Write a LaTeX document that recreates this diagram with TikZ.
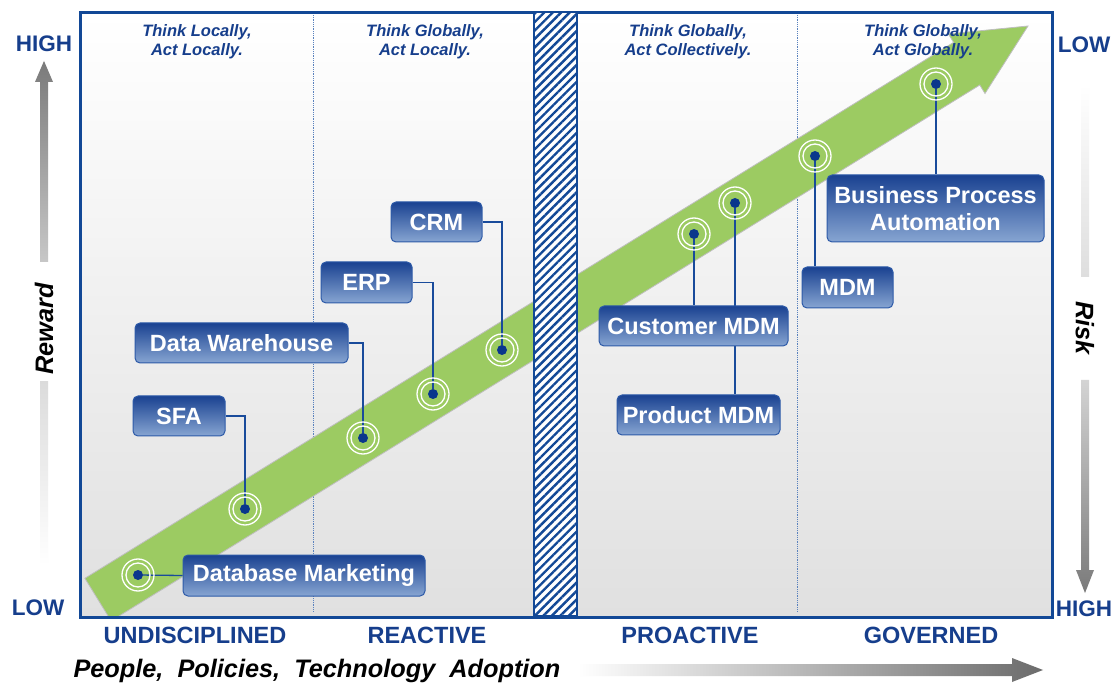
\documentclass[tikz,border=0pt]{standalone}
\usepackage{fontspec}
\setmainfont{Liberation Sans}
\usetikzlibrary{patterns.meta}

\definecolor{frameblue}{RGB}{18,72,150}
\definecolor{textblue}{RGB}{22,62,140}
\definecolor{boxtop}{RGB}{26,66,145}
\definecolor{boxbot}{RGB}{135,165,210}
\definecolor{boxedge}{RGB}{45,90,168}
\definecolor{dotblue}{RGB}{10,55,140}
\definecolor{leaf}{RGB}{156,203,98}
\definecolor{linkblue}{RGB}{25,75,155}
\definecolor{panelbot}{RGB}{224,224,224}
\definecolor{divblue}{RGB}{90,130,190}

\pgfdeclarelayer{back}
\pgfdeclarelayer{links}
\pgfsetlayers{back,links,main}

\tikzset{
  lbl/.style={rounded corners=5pt, draw=boxedge, line width=1pt,
    top color=boxtop, bottom color=boxbot, text=white,
    font=\fontsize{23.5}{27.5}\selectfont\bfseries, inner sep=0pt,
    minimum height=40pt, align=center},
  marker/.style={circle, fill=dotblue, inner sep=0pt, minimum size=10pt},
  ring/.style={draw=white, line width=1.3pt},
  link/.style={draw=linkblue, line width=1.3pt},
  colhead/.style={text=textblue, font=\fontsize{16.5}{18}\selectfont\bfseries\itshape, anchor=base},
  stage/.style={text=textblue, font=\fontsize{23.5}{25}\selectfont\bfseries},
  level/.style={text=textblue, font=\fontsize{22.5}{24}\selectfont\bfseries},
  axis/.style={text=black, font=\fontsize{25.3}{27}\selectfont\bfseries\itshape},
  divider/.style={draw=divblue, line width=0.8pt, densely dotted}
}

\begin{document}
\begin{tikzpicture}[x=1pt,y=-1pt]
\useasboundingbox (0,0) rectangle (1117,684);

\begin{pgfonlayer}{back}
  \fill[white] (0,0) rectangle (1117,684);
  % panel with soft vertical gradient
  \shade[top color=white, bottom color=panelbot] (80,13) rectangle (1052,617);
  % column dividers
  \draw[divider] (313.5,15) -- (313.5,612);
  \draw[divider] (797,15) -- (797,612);
  % big green progress arrow
  \begin{scope}
    \clip (80,13) rectangle (1052,617);
    \filldraw[fill=leaf, draw=white!75!black, line width=0.8pt]
      (84.9,578.3) -- (953.6,42.4) -- (948.4,33.9) -- (1028,26)
      -- (985.0,93.5) -- (979.8,85.0) -- (111.1,620.9) -- cycle;
  \end{scope}
  % frame
  \draw[frameblue, line width=3pt] (80,13) rectangle (1052,617);
  % hatched transition bar
  \fill[white] (534,12) rectangle (577,616);
  \fill[pattern={Lines[angle=45,distance=6pt,line width=2.4pt]}, pattern color=frameblue]
    (534,12) rectangle (577,616);
  \draw[frameblue, line width=1.5pt] (534,12) rectangle (577,616);
\end{pgfonlayer}

% column headings
\node[colhead] at (197,37) {Think Locally,};
\node[colhead] at (197,55.5) {Act Locally.};
\node[colhead] at (425,37) {Think Globally,};
\node[colhead] at (425,55.5) {Act Locally.};
\node[colhead] at (688,37) {Think Globally,};
\node[colhead] at (688,55.5) {Act Collectively.};
\node[colhead] at (923,37) {Think Globally,};
\node[colhead] at (923,55.5) {Act Globally.};

% stages along the bottom
\node[stage] (s1) at (195,635) {UNDISCIPLINED};
\node[stage] (s2) at (427,635) {REACTIVE};
\node[stage] (s3) at (690,635) {PROACTIVE};
\node[stage] (s4) at (931,635) {GOVERNED};

% horizontal axis
\node[axis, anchor=base west] (xlab) at (70,677) {People,\ \ Policies,\ \ Technology\ \ Adoption};
\shade[left color=white, right color=black!58]
  (578,664) -- (1012,664) -- (1012,658) -- (1043,670) -- (1012,682)
  -- (1012,676) -- (578,676) -- cycle;

% reward axis (left)
\node[level] (rhigh) at (44,44) {HIGH};
\node[level] (rlow) at (38,608) {LOW};
\shade[top color=black!52, bottom color=black!22]
  (40,262) -- (40,82) -- (35,82) -- (44,61) -- (53,82) -- (48,82) -- (48,262) -- cycle;
\shade[top color=black!14, bottom color=white] (40,382) rectangle (48,565);
\node[axis, rotate=90] (rew) at (44,329) {Reward};

% risk axis (right)
\node[level] (klow) at (1084,45) {LOW};
\node[level] (khigh) at (1084,609) {HIGH};
\shade[top color=white, bottom color=black!13] (1081,85) rectangle (1089,277);
\shade[top color=black!17, bottom color=black!52]
  (1081,380) -- (1081,570) -- (1076,570) -- (1085,593) -- (1094,570)
  -- (1089,570) -- (1089,380) -- cycle;
\node[axis, rotate=-90] (risk) at (1085,328) {Risk};

% milestones on the arrow
\foreach \n/\p in {m1/{(138,575)}, m2/{(245,509)}, m3/{(363,438)}, m4/{(433,394)},
                   m5/{(502,350)}, m6/{(694,234)}, m7/{(735,203)}, m8/{(815,156)}, m9/{(936,84)}} {
  \node[marker] (\n) at \p {};
  \draw[ring] (\n) circle (12pt);
  \draw[ring] (\n) circle (16pt);
}

% labels
\node[lbl, minimum width=242pt, minimum height=41pt] (dbm) at (304,575.5) {Database Marketing};
\node[lbl, minimum width=92pt] (sfa) at (179,416) {SFA};
\node[lbl, minimum width=213pt] (dw) at (241.5,343) {Data Warehouse};
\node[lbl, minimum width=91pt, minimum height=41pt] (erp) at (366.5,282.5) {ERP};
\node[lbl, minimum width=91pt] (crm) at (436.5,222) {CRM};
\node[lbl, minimum width=189pt] (cmdm) at (693.5,326) {Customer MDM};
\node[lbl, minimum width=163pt] (pmdm) at (698.5,415) {Product MDM};
\node[lbl, minimum width=91pt, minimum height=41pt] (mdm) at (847.5,287.5) {MDM};
\node[lbl, minimum width=217pt, minimum height=67pt] (bpa) at (935.5,208.5) {Business Process\\Automation};

% leader lines
\begin{pgfonlayer}{links}
  \draw[link] (m1) -- (dbm.west);
  \draw[link] (sfa.east) -| (m2);
  \draw[link] (dw.east) -| (m3);
  \draw[link] (erp.east) -| (m4);
  \draw[link] (crm.east) -| (m5);
  \draw[link] (m6) -- (m6 |- cmdm.north);
  \draw[link] (m7) -- (m7 |- pmdm.north);
  \draw[link] (m8) -- (m8 |- mdm.north);
  \draw[link] (m9) -- (m9 |- bpa.north);
\end{pgfonlayer}
\end{tikzpicture}
\end{document}
